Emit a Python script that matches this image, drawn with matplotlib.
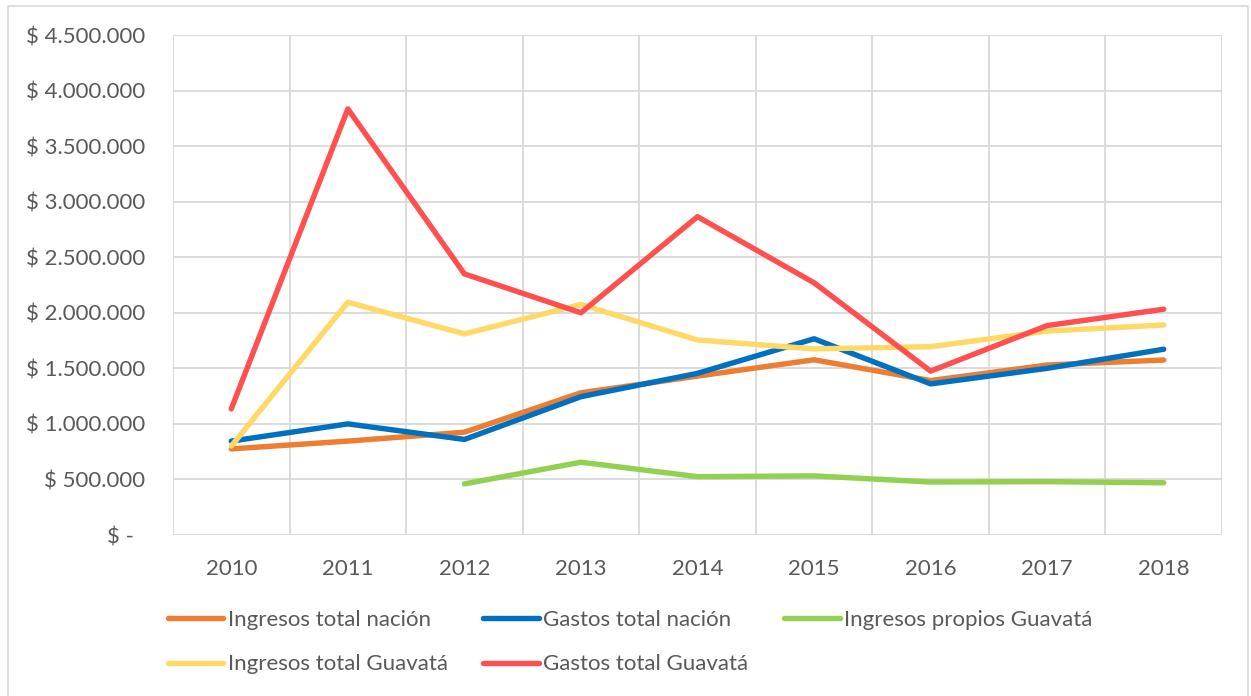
import matplotlib
matplotlib.use("Agg")
import matplotlib.pyplot as plt
from matplotlib.patches import Rectangle

years = ["2010", "2011", "2012", "2013", "2014", "2015", "2016", "2017", "2018"]
ingresos_nacion = [775000, 845000, 925000, 1280000, 1430000, 1577000, 1390000, 1530000, 1575000]
gastos_nacion = [845000, 1000000, 860000, 1245000, 1455000, 1766000, 1360000, 1500000, 1672000]
ingresos_propios = [None, None, 460000, 655000, 525000, 532000, 477000, 480000, 470000]
ingresos_guavata = [800000, 2095000, 1810000, 2075000, 1755000, 1675000, 1695000, 1835000, 1890000]
gastos_guavata = [1135000, 3835000, 2350000, 2000000, 2865000, 2270000, 1475000, 1885000, 2032000]
yticks = [0, 500000, 1000000, 1500000, 2000000, 2500000, 3000000, 3500000, 4000000, 4500000]

plt.rcParams['font.family'] = ['Lato', 'DejaVu Sans']

fig = plt.figure(figsize=(12.51, 6.96), dpi=100)
ax = fig.add_axes([173/1251, 1-535/696, (1222-173)/1251, 500/696])

x = list(range(len(years)))
lw = 3.9
def clean(v):
    return [float('nan') if a is None else a for a in v]

h1, = ax.plot(x, ingresos_nacion, color="#ED7D31", lw=lw, solid_capstyle="round", label="Ingresos total nación")
h2, = ax.plot(x, gastos_nacion, color="#0070C0", lw=lw, solid_capstyle="round", label="Gastos total nación")
h3, = ax.plot(x, clean(ingresos_propios), color="#92D050", lw=lw, solid_capstyle="round", label="Ingresos propios Guavatá")
h4, = ax.plot(x, ingresos_guavata, color="#FFD966", lw=lw, solid_capstyle="round", label="Ingresos total Guavatá")
h5, = ax.plot(x, gastos_guavata, color="#FF5050", lw=lw, solid_capstyle="round", label="Gastos total Guavatá")

ax.set_xlim(-0.5, len(years) - 0.5)
ax.set_ylim(0, 4500000)
ax.set_yticks(yticks)
def fmt(v):
    if v == 0:
        return "$ -  "
    return "$ " + f"{int(v):,}".replace(",", ".")
ax.set_yticklabels([fmt(v) for v in yticks])
ax.set_xticks(x)
ax.set_xticklabels(years)
ax.set_xticks([i - 0.5 for i in range(len(years) + 1)], minor=True)
ax.grid(True, axis="y", which="major", color="#D9D9D9", lw=1.3)
ax.grid(True, axis="x", which="minor", color="#D9D9D9", lw=1.3)
ax.grid(False, axis="x", which="major")
ax.set_axisbelow(True)
for s in ax.spines.values():
    s.set_visible(False)
ax.tick_params(axis="both", which="both", length=0, labelsize=16, colors="#595959")
ax.tick_params(axis="y", pad=20)
ax.tick_params(axis="x", pad=17)

leg = fig.legend([h1, h4, h2, h5, h3],
                 [h1.get_label(), h4.get_label(), h2.get_label(), h5.get_label(), h3.get_label()],
                 ncol=3, loc="upper left", bbox_to_anchor=(159/1251, 1-601/696),
                 frameon=False, fontsize=16, handlelength=2.5, handletextpad=0.2,
                 columnspacing=1.6, labelspacing=1.1, borderaxespad=0)
for t in leg.get_texts():
    t.set_color("#595959")

fig.patches.append(Rectangle((8/1251, -0.01), (1248-8)/1251, 1.01-6/696, transform=fig.transFigure,
                             fill=False, edgecolor="#D9D9D9", lw=1.2))

fig.savefig("out.png", dpi=100)
